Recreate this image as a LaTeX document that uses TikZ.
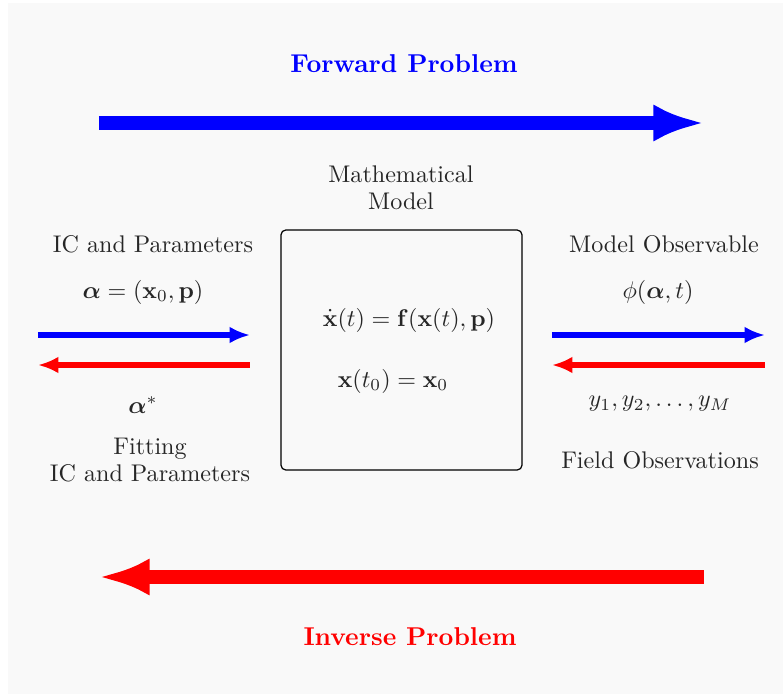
\documentclass[tikz,border=0pt]{standalone}
\usepackage{amsmath, amssymb, bm}
\usepackage{tikz}
\usetikzlibrary{arrows.meta, positioning, calc}

\begin{document}
\begin{tikzpicture}[x=0.415pt, y=-0.415pt,
    txt/.style={text=black!85, align=center, inner sep=0pt},
    title/.style={inner sep=0pt, font=\fontsize{10.7}{13}\selectfont\bfseries},
    bigfwd/.style={draw=blue, line width=6pt, -{Latex[length=21pt, width=15.5pt]}},
    biginv/.style={draw=red, line width=6pt, -{Latex[length=21pt, width=15.5pt]}},
    fwd/.style={draw=blue, line width=2.4pt, -{Latex[length=8.5pt, width=7pt]}},
    inv/.style={draw=red, line width=2.4pt, -{Latex[length=8.5pt, width=7pt]}}
]
%% background
\useasboundingbox (0,0) rectangle (783,694);
\fill[black!2.5] (8,3) rectangle (783,694);

%% forward problem (top)
\node[title, text=blue] (fwdlbl) at (404,64) {Forward Problem};
\coordinate (fwdA) at (99,123);
\coordinate (fwdB) at (704,123);
\draw[bigfwd] (fwdA) -- (fwdB);

%% model box
\node[txt] (mlbl) at (401,188) {Mathematical\\[-1pt]Model};
\node[draw=black, line width=0.5pt, rounded corners=2pt, minimum width=241*0.415pt,
      minimum height=240*0.415pt, inner sep=0pt] (model) at (401.5,350) {};
\node[txt] (ode) at (409,320) {$\dot{\mathbf{x}}(t)=\mathbf{f}(\mathbf{x}(t),\mathbf{p})$};
\node[txt] (ic) at (393,381) {$\mathbf{x}(t_0)=\mathbf{x}_0$};

%% LEFT: parameters
\node[txt] (parlbl) at (153,244) {IC and Parameters};
\node[txt] (alpha) at (143,292) {$\bm{\alpha}=(\mathbf{x}_0,\mathbf{p})$};
\coordinate (lA) at (38,335);
\coordinate (lB) at (250,335);
\coordinate (lC) at (250,365);
\coordinate (lD) at (38,365);
\draw[fwd] (lA) -- (lB);
\draw[inv] (lC) -- (lD);
\node[txt] (alphastar) at (143,405) {$\bm{\alpha}^{*}$};
\node[txt] (fitlbl) at (150,460) {Fitting\\[-1pt]IC and Parameters};

%% RIGHT: observations
\node[txt] (obslbl) at (664,244) {Model Observable};
\node[txt] (phi) at (658,292) {$\phi(\bm{\alpha},t)$};
\coordinate (rA) at (552,335);
\coordinate (rB) at (765,335);
\coordinate (rC) at (765,365);
\coordinate (rD) at (552,365);
\draw[fwd] (rA) -- (rB);
\draw[inv] (rC) -- (rD);
\node[txt] (ydata) at (660,404) {$y_1,y_2,\ldots,y_M$};
\node[txt] (fieldlbl) at (660,460) {Field Observations};

%% inverse problem (bottom)
\coordinate (invA) at (704,577);
\coordinate (invB) at (99,577);
\draw[biginv] (invA) -- (invB);
\node[title, text=red] (invlbl) at (410,637) {Inverse Problem};
\end{tikzpicture}
\end{document}
